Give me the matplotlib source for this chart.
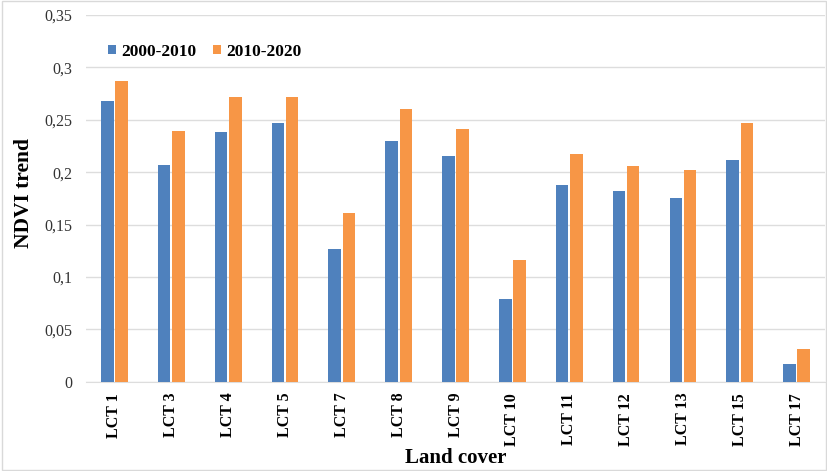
import matplotlib
matplotlib.use("Agg")
import matplotlib.pyplot as plt
import numpy as np
from matplotlib.ticker import FuncFormatter, MultipleLocator

# Data
categories = ["LCT 1", "LCT 3", "LCT 4", "LCT 5", "LCT 7", "LCT 8", "LCT 9",
              "LCT 10", "LCT 11", "LCT 12", "LCT 13", "LCT 15", "LCT 17"]
trend_2000_2010 = [0.268, 0.207, 0.238, 0.247, 0.127, 0.230, 0.215,
                   0.079, 0.188, 0.182, 0.175, 0.212, 0.017]
trend_2010_2020 = [0.287, 0.239, 0.272, 0.272, 0.161, 0.260, 0.241,
                   0.116, 0.217, 0.206, 0.202, 0.247, 0.031]
series_labels = ["2000-2010", "2010-2020"]

blue = "#4F81BD"
orange = "#F79646"

plt.rcParams["font.family"] = ["Liberation Serif", "DejaVu Serif"]

fig = plt.figure(figsize=(8.28, 4.71), dpi=100)
ax = fig.add_axes([0.1039, 0.1896, 0.8925, 0.7785])

x = np.arange(len(categories))
width = 0.22
gap = 0.03
ax.bar(x - (width + gap) / 2, trend_2000_2010, width, color=blue,
       label=series_labels[0], zorder=3)
ax.bar(x + (width + gap) / 2, trend_2010_2020, width, color=orange,
       label=series_labels[1], zorder=3)

ax.set_xlim(-0.5, len(categories) - 0.5)
ax.set_ylim(0, 0.35)
ax.yaxis.set_major_locator(MultipleLocator(0.05))
ax.yaxis.set_major_formatter(
    FuncFormatter(lambda v, p: ("%g" % round(v, 2)).replace(".", ",")))
ax.grid(axis="y", color="#DDDDDD", linewidth=1, zorder=0)

for s in ["top", "right", "left"]:
    ax.spines[s].set_visible(False)
ax.spines["bottom"].set_color("#DDDDDD")

ax.set_xticks(x)
ax.set_xticklabels(categories, rotation=90, fontweight="bold", fontsize=11.5)
ax.tick_params(axis="x", length=0, pad=8)
ax.tick_params(axis="y", length=0, pad=10, labelsize=11.5)
for t in ax.get_yticklabels():
    t.set_color("#333333")

ax.set_ylabel("NDVI trend", fontsize=15.5, fontweight="bold")
ax.yaxis.set_label_coords(-0.071, 0.515)
ax.set_xlabel("Land cover", fontsize=15, fontweight="bold", labelpad=2)

ax.legend(loc="center left", bbox_to_anchor=(0.02, 0.9), ncol=2,
          frameon=False, prop={"weight": "bold", "size": 12.5},
          handlelength=0.45, handleheight=0.45, handletextpad=0.3,
          columnspacing=1.0, borderaxespad=0)

# light border around the whole figure
fig.patches.append(plt.Rectangle((0.002, 0.003), 0.996, 0.994,
                                 transform=fig.transFigure, fill=False,
                                 edgecolor="#D9D9D9", linewidth=1))

fig.savefig("out.png", dpi=100)
